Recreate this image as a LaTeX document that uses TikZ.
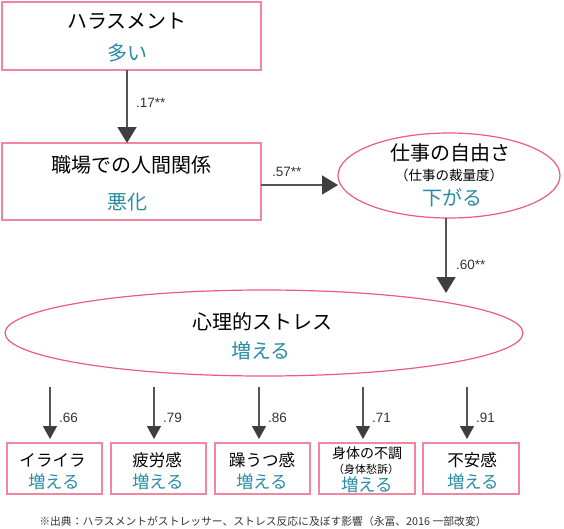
\documentclass[tikz,border=0pt]{standalone}
\usepackage{fontspec}
\setmainfont{Noto Sans CJK JP}
\newfontfamily\numfont{Liberation Sans}
\usetikzlibrary{shapes.geometric,arrows.meta}
\definecolor{boxc}{HTML}{F2869F}
\definecolor{ellc}{HTML}{EC5A83}
\definecolor{tealc}{HTML}{2A8CA3}
\definecolor{linec}{HTML}{555555}
\definecolor{headc}{HTML}{3F3F3F}
\definecolor{labc}{HTML}{333333}
\tikzset{
  pinkbox/.style={draw=boxc,line width=1.3pt,rectangle,inner sep=0pt},
  pinkell/.style={draw=ellc,line width=1.2pt,ellipse,inner sep=0pt},
  maintxt/.style={inner sep=0pt,font=\fontsize{20pt}{22pt}\selectfont,text=black},
  subtxt/.style={inner sep=0pt,font=\fontsize{13.5pt}{15pt}\selectfont,text=black},
  teal/.style={inner sep=0pt,font=\fontsize{20pt}{22pt}\selectfont,text=tealc},
  smtxt/.style={inner sep=0pt,font=\fontsize{16.5pt}{18pt}\selectfont,text=black},
  smteal/.style={inner sep=0pt,font=\fontsize{17.5pt}{19pt}\selectfont,text=tealc},
  coef/.style={inner sep=0pt,anchor=west,font=\numfont\fontsize{13.5pt}{15pt}\selectfont,text=labc},
  bigarr/.style={draw=linec,line width=1.6pt,-{Triangle[width=19pt,length=16pt,fill=headc,color=headc]}},
  smarr/.style={draw=linec,line width=1.4pt,-{Triangle[width=14pt,length=13pt,fill=headc,color=headc]}},
}
\begin{document}
\begin{tikzpicture}[x=1pt,y=-1pt]
\useasboundingbox (0,0) rectangle (564,528);
% top boxes
\node[pinkbox,minimum width=259pt,minimum height=68pt] (b1) at (131.5,36) {};
\node[maintxt] (b1t) at (127,21) {ハラスメント};
\node[teal] (b1s) at (127,53) {多い};
\node[pinkbox,minimum width=259pt,minimum height=77pt] (b2) at (131.5,181.5) {};
\node[maintxt] (b2t) at (131,165) {職場での人間関係};
\node[teal] (b2s) at (127,202) {悪化};
% ellipse 1
\node[pinkell,minimum width=222pt,minimum height=85pt] (e1) at (449,175.5) {};
\node[maintxt] (e1t) at (450,153) {仕事の自由さ};
\node[subtxt] (e1u) at (449,175) {（仕事の裁量度）};
\node[teal] (e1s) at (452,198) {下がる};
% ellipse 2
\node[pinkell,minimum width=518pt,minimum height=86pt] (e2) at (264,333) {};
\node[maintxt] (e2t) at (262,322) {心理的ストレス};
\node[teal] (e2s) at (261,351) {増える};
% arrows top
\coordinate (a1s) at (127,70);
\coordinate (a1e) at (127,143);
\draw[bigarr] (a1s) -- (a1e);
\node[coef] (l1) at (136,103) {.17**};
\coordinate (a2s) at (261,185);
\coordinate (a2e) at (338,185);
\draw[bigarr] (a2s) -- (a2e);
\node[coef] (l2) at (272,172) {.57**};
\coordinate (a3s) at (446,218);
\coordinate (a3e) at (446,293);
\draw[bigarr] (a3s) -- (a3e);
\node[coef] (l3) at (456,265) {.60**};
% bottom boxes
\node[pinkbox,minimum width=95pt,minimum height=51pt] (c1) at (54.5,468.5) {};
\node[pinkbox,minimum width=95pt,minimum height=51pt] (c2) at (158.5,468.5) {};
\node[pinkbox,minimum width=95pt,minimum height=51pt] (c3) at (262.5,468.5) {};
\node[pinkbox,minimum width=96pt,minimum height=51pt] (c4) at (367,468.5) {};
\node[pinkbox,minimum width=96pt,minimum height=51pt] (c5) at (471,468.5) {};
\node[smtxt] (c1t) at (52.5,460) {イライラ};
\node[smteal] (c1s) at (54,482) {増える};
\node[smtxt] (c2t) at (157,460) {疲労感};
\node[smteal] (c2s) at (158,482) {増える};
\node[smtxt] (c3t) at (262,460) {躁うつ感};
\node[smteal] (c3s) at (262,482) {増える};
\node[inner sep=0pt,font=\fontsize{14pt}{15pt}\selectfont] (c4t) at (367,453) {身体の不調};
\node[inner sep=0pt,font=\fontsize{11pt}{12pt}\selectfont] (c4u) at (366,469) {（身体愁訴）};
\node[smteal] (c4s) at (367,485) {増える};
\node[smtxt] (c5t) at (472,460) {不安感};
\node[smteal] (c5s) at (473,482) {増える};
% bottom arrows
\foreach \i/\x/\v in {1/50/.66,2/154/.79,3/259/.86,4/363/.71,5/467/.91}{
  \coordinate (d\i s) at (\x,387);
  \coordinate (d\i e) at (\x,439);
  \draw[smarr] (d\i s) -- (d\i e);
  \node[coef] (m\i) at (\x+9,418) {\v};
}
% footer
\node[inner sep=0pt,font=\fontsize{10.8pt}{12pt}\selectfont,text=labc] (foot) at (263,521) {※出典：ハラスメントがストレッサー、ストレス反応に及ぼす影響（永冨、2016 一部改変）};
\end{tikzpicture}
\end{document}
